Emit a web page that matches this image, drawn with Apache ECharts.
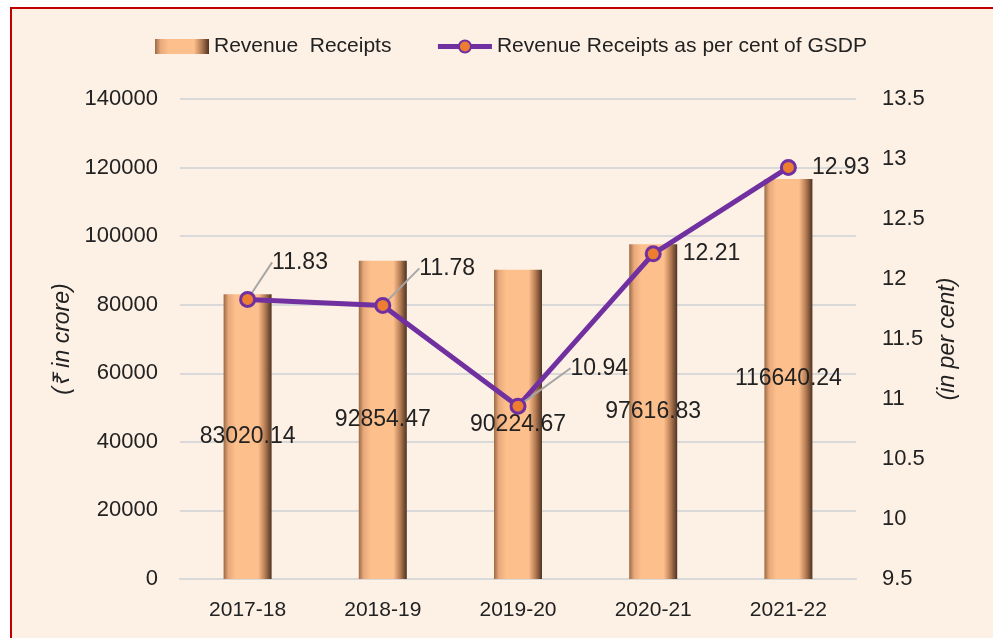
<!DOCTYPE html>
<html>
<head>
<meta charset="utf-8">
<script src="https://cdn.jsdelivr.net/npm/echarts@6/dist/echarts.min.js"></script>
<style>
html,body{margin:0;padding:0;background:#ffffff;}
#bg{position:absolute;left:10px;top:7px;width:983px;height:631px;box-sizing:border-box;border-left:2px solid #c00000;border-top:2px solid #c00000;background:#fdf0e5;}
#chart{position:absolute;left:0;top:0;width:993px;height:638px;}
</style>
</head>
<body>
<div id="bg"></div>
<div id="chart"></div>
<script>
const categories = ['2017-18', '2018-19', '2019-20', '2020-21', '2021-22'];
const revenueReceipts = [83020.14, 92854.47, 90224.67, 97616.83, 116640.24];
const percentOfGSDP = [11.83, 11.78, 10.94, 12.21, 12.93];
const leftTicks = { min: 0, max: 140000, interval: 20000 };
const rightTicks = { min: 9.5, max: 13.5, interval: 0.5 };
const labelShift = [[8, -37], [20, -37], [36, -38], [13, 0], [7, 0]];
const showLeader = [true, true, true, false, false];

const FONT = 'Liberation Sans';
const chart = echarts.init(document.getElementById('chart'));
const barGrad = new echarts.graphic.LinearGradient(0, 0, 1, 0, [
  { offset: 0, color: '#9a6a45' },
  { offset: 0.1, color: '#e8a87a' },
  { offset: 0.25, color: '#fdbf8c' },
  { offset: 0.72, color: '#fdbf8c' },
  { offset: 0.86, color: '#b77e55' },
  { offset: 1, color: '#4e3322' }
]);
chart.setOption({
  backgroundColor: 'transparent',
  textStyle: { fontFamily: FONT },
  legend: {
    top: 31, left: 150, itemGap: 44, itemWidth: 54, itemHeight: 15,
    textStyle: { fontSize: 21, color: '#222', fontFamily: FONT },
    data: [
      { name: 'Revenue  Receipts', icon: 'rect' },
      { name: 'Revenue Receipts as per cent of GSDP', lineStyle: { width: 5, color: '#7030a0' } }
    ]
  },
  grid: { left: 180, right: 137, top: 99, bottom: 59, containLabel: false },
  xAxis: {
    type: 'category', data: categories,
    axisLine: { show: true, lineStyle: { color: '#d9d9d9', width: 2 } },
    axisTick: { show: false },
    axisLabel: { fontSize: 21, color: '#222', margin: 21, fontFamily: FONT }
  },
  yAxis: [
    {
      type: 'value', min: leftTicks.min, max: leftTicks.max, interval: leftTicks.interval,
      name: '(₹ in crore)', nameLocation: 'middle', nameGap: 104, nameRotate: 90,
      nameTextStyle: { fontSize: 23, fontStyle: 'italic', color: '#222', fontFamily: FONT },
      axisLine: { show: false }, axisTick: { show: false },
      axisLabel: { fontSize: 22, color: '#222', margin: 22, fontFamily: FONT, formatter: v => String(v) },
      splitLine: { lineStyle: { color: '#d9d9d9', width: 2 } }
    },
    {
      type: 'value', min: rightTicks.min, max: rightTicks.max, interval: rightTicks.interval,
      name: '(in per cent)', nameLocation: 'middle', nameGap: 80, nameRotate: 90,
      nameTextStyle: { fontSize: 23, fontStyle: 'italic', color: '#222', fontFamily: FONT },
      axisLine: { show: false }, axisTick: { show: false },
      axisLabel: { fontSize: 22, color: '#222', margin: 26, fontFamily: FONT },
      splitLine: { show: false }
    }
  ],
  series: [
    {
      name: 'Revenue  Receipts', type: 'bar', yAxisIndex: 0, barWidth: 48,
      data: revenueReceipts,
      itemStyle: { color: barGrad },
      label: {
        show: true, position: 'inside', fontSize: 23, color: '#222', fontFamily: FONT,
        formatter: p => p.value.toFixed(2)
      },
      z: 2
    },
    {
      name: 'Revenue Receipts as per cent of GSDP', type: 'line', yAxisIndex: 1,
      data: percentOfGSDP.map((v, i) => ({ value: v, labelLine: { show: showLeader[i] } })),
      lineStyle: { color: '#7030a0', width: 5 },
      itemStyle: { color: '#ed7d31', borderColor: '#7030a0', borderWidth: 3 },
      symbol: 'circle', symbolSize: 14,
      label: {
        show: true, position: 'right', distance: 8, fontSize: 23, color: '#222', fontFamily: FONT,
        formatter: p => p.value.toFixed(2)
      },
      labelLine: { show: true, lineStyle: { color: '#a6a6a6', width: 2 } },
      labelLayout: function (params) {
        const s = labelShift[params.dataIndex];
        return { dx: s[0], dy: s[1] };
      },
      z: 5
    }
  ]
});
</script>
</body>
</html>
